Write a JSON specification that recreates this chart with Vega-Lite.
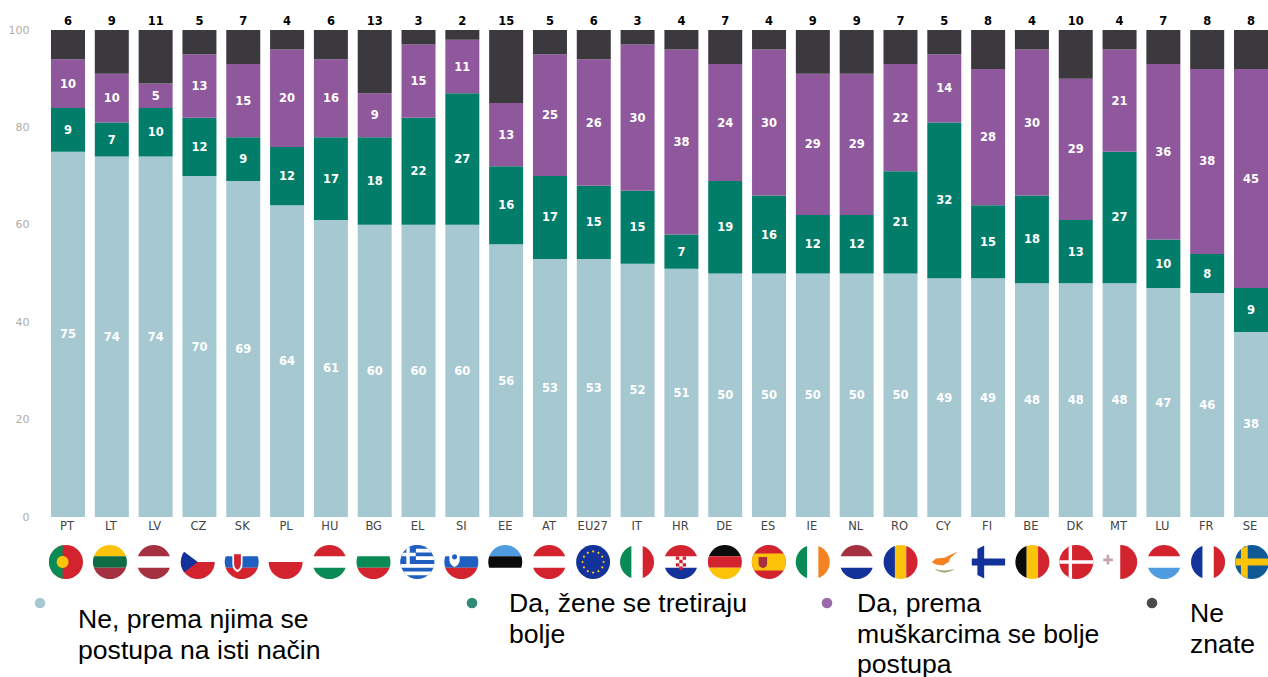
{
"$schema":"https://vega.github.io/schema/vega-lite/v6.json",
"padding":{"left":8,"top":16,"right":0,"bottom":0},
"background":"white",
"config":{"view":{"stroke":null},"concat":{"spacing":0}},
"bounds":"flush",
"spacing":0,
"resolve":{"scale":{"color":"independent","shape":"independent","x":"independent","y":"independent"}},
"datasets":{
"shares":[
{"country":"PT","answer":"Ne","rank":1,"share":75},{"country":"PT","answer":"Da žene","rank":2,"share":9},{"country":"PT","answer":"Da muškarci","rank":3,"share":10},{"country":"PT","answer":"Ne znate","rank":4,"share":6},
{"country":"LT","answer":"Ne","rank":1,"share":74},{"country":"LT","answer":"Da žene","rank":2,"share":7},{"country":"LT","answer":"Da muškarci","rank":3,"share":10},{"country":"LT","answer":"Ne znate","rank":4,"share":9},
{"country":"LV","answer":"Ne","rank":1,"share":74},{"country":"LV","answer":"Da žene","rank":2,"share":10},{"country":"LV","answer":"Da muškarci","rank":3,"share":5},{"country":"LV","answer":"Ne znate","rank":4,"share":11},
{"country":"CZ","answer":"Ne","rank":1,"share":70},{"country":"CZ","answer":"Da žene","rank":2,"share":12},{"country":"CZ","answer":"Da muškarci","rank":3,"share":13},{"country":"CZ","answer":"Ne znate","rank":4,"share":5},
{"country":"SK","answer":"Ne","rank":1,"share":69},{"country":"SK","answer":"Da žene","rank":2,"share":9},{"country":"SK","answer":"Da muškarci","rank":3,"share":15},{"country":"SK","answer":"Ne znate","rank":4,"share":7},
{"country":"PL","answer":"Ne","rank":1,"share":64},{"country":"PL","answer":"Da žene","rank":2,"share":12},{"country":"PL","answer":"Da muškarci","rank":3,"share":20},{"country":"PL","answer":"Ne znate","rank":4,"share":4},
{"country":"HU","answer":"Ne","rank":1,"share":61},{"country":"HU","answer":"Da žene","rank":2,"share":17},{"country":"HU","answer":"Da muškarci","rank":3,"share":16},{"country":"HU","answer":"Ne znate","rank":4,"share":6},
{"country":"BG","answer":"Ne","rank":1,"share":60},{"country":"BG","answer":"Da žene","rank":2,"share":18},{"country":"BG","answer":"Da muškarci","rank":3,"share":9},{"country":"BG","answer":"Ne znate","rank":4,"share":13},
{"country":"EL","answer":"Ne","rank":1,"share":60},{"country":"EL","answer":"Da žene","rank":2,"share":22},{"country":"EL","answer":"Da muškarci","rank":3,"share":15},{"country":"EL","answer":"Ne znate","rank":4,"share":3},
{"country":"SI","answer":"Ne","rank":1,"share":60},{"country":"SI","answer":"Da žene","rank":2,"share":27},{"country":"SI","answer":"Da muškarci","rank":3,"share":11},{"country":"SI","answer":"Ne znate","rank":4,"share":2},
{"country":"EE","answer":"Ne","rank":1,"share":56},{"country":"EE","answer":"Da žene","rank":2,"share":16},{"country":"EE","answer":"Da muškarci","rank":3,"share":13},{"country":"EE","answer":"Ne znate","rank":4,"share":15},
{"country":"AT","answer":"Ne","rank":1,"share":53},{"country":"AT","answer":"Da žene","rank":2,"share":17},{"country":"AT","answer":"Da muškarci","rank":3,"share":25},{"country":"AT","answer":"Ne znate","rank":4,"share":5},
{"country":"EU27","answer":"Ne","rank":1,"share":53},{"country":"EU27","answer":"Da žene","rank":2,"share":15},{"country":"EU27","answer":"Da muškarci","rank":3,"share":26},{"country":"EU27","answer":"Ne znate","rank":4,"share":6},
{"country":"IT","answer":"Ne","rank":1,"share":52},{"country":"IT","answer":"Da žene","rank":2,"share":15},{"country":"IT","answer":"Da muškarci","rank":3,"share":30},{"country":"IT","answer":"Ne znate","rank":4,"share":3},
{"country":"HR","answer":"Ne","rank":1,"share":51},{"country":"HR","answer":"Da žene","rank":2,"share":7},{"country":"HR","answer":"Da muškarci","rank":3,"share":38},{"country":"HR","answer":"Ne znate","rank":4,"share":4},
{"country":"DE","answer":"Ne","rank":1,"share":50},{"country":"DE","answer":"Da žene","rank":2,"share":19},{"country":"DE","answer":"Da muškarci","rank":3,"share":24},{"country":"DE","answer":"Ne znate","rank":4,"share":7},
{"country":"ES","answer":"Ne","rank":1,"share":50},{"country":"ES","answer":"Da žene","rank":2,"share":16},{"country":"ES","answer":"Da muškarci","rank":3,"share":30},{"country":"ES","answer":"Ne znate","rank":4,"share":4},
{"country":"IE","answer":"Ne","rank":1,"share":50},{"country":"IE","answer":"Da žene","rank":2,"share":12},{"country":"IE","answer":"Da muškarci","rank":3,"share":29},{"country":"IE","answer":"Ne znate","rank":4,"share":9},
{"country":"NL","answer":"Ne","rank":1,"share":50},{"country":"NL","answer":"Da žene","rank":2,"share":12},{"country":"NL","answer":"Da muškarci","rank":3,"share":29},{"country":"NL","answer":"Ne znate","rank":4,"share":9},
{"country":"RO","answer":"Ne","rank":1,"share":50},{"country":"RO","answer":"Da žene","rank":2,"share":21},{"country":"RO","answer":"Da muškarci","rank":3,"share":22},{"country":"RO","answer":"Ne znate","rank":4,"share":7},
{"country":"CY","answer":"Ne","rank":1,"share":49},{"country":"CY","answer":"Da žene","rank":2,"share":32},{"country":"CY","answer":"Da muškarci","rank":3,"share":14},{"country":"CY","answer":"Ne znate","rank":4,"share":5},
{"country":"FI","answer":"Ne","rank":1,"share":49},{"country":"FI","answer":"Da žene","rank":2,"share":15},{"country":"FI","answer":"Da muškarci","rank":3,"share":28},{"country":"FI","answer":"Ne znate","rank":4,"share":8},
{"country":"BE","answer":"Ne","rank":1,"share":48},{"country":"BE","answer":"Da žene","rank":2,"share":18},{"country":"BE","answer":"Da muškarci","rank":3,"share":30},{"country":"BE","answer":"Ne znate","rank":4,"share":4},
{"country":"DK","answer":"Ne","rank":1,"share":48},{"country":"DK","answer":"Da žene","rank":2,"share":13},{"country":"DK","answer":"Da muškarci","rank":3,"share":29},{"country":"DK","answer":"Ne znate","rank":4,"share":10},
{"country":"MT","answer":"Ne","rank":1,"share":48},{"country":"MT","answer":"Da žene","rank":2,"share":27},{"country":"MT","answer":"Da muškarci","rank":3,"share":21},{"country":"MT","answer":"Ne znate","rank":4,"share":4},
{"country":"LU","answer":"Ne","rank":1,"share":47},{"country":"LU","answer":"Da žene","rank":2,"share":10},{"country":"LU","answer":"Da muškarci","rank":3,"share":36},{"country":"LU","answer":"Ne znate","rank":4,"share":7},
{"country":"FR","answer":"Ne","rank":1,"share":46},{"country":"FR","answer":"Da žene","rank":2,"share":8},{"country":"FR","answer":"Da muškarci","rank":3,"share":38},{"country":"FR","answer":"Ne znate","rank":4,"share":8},
{"country":"SE","answer":"Ne","rank":1,"share":38},{"country":"SE","answer":"Da žene","rank":2,"share":9},{"country":"SE","answer":"Da muškarci","rank":3,"share":45},{"country":"SE","answer":"Ne znate","rank":4,"share":8}
],
"flags":[
{"country":"PT","part":"full","tone":"red"},{"country":"PT","part":"ptleft","tone":"green"},{"country":"PT","part":"dot","tone":"yellow"},
{"country":"LT","part":"top","tone":"yellow"},{"country":"LT","part":"hmid","tone":"darkgreen"},{"country":"LT","part":"bottom","tone":"maroon"},
{"country":"LV","part":"top","tone":"maroon"},{"country":"LV","part":"bottom","tone":"maroon"},
{"country":"CZ","part":"bothalf","tone":"red"},{"country":"CZ","part":"wedge","tone":"navy"},
{"country":"SK","part":"hmid","tone":"blue"},{"country":"SK","part":"bottom","tone":"red"},{"country":"SK","part":"shield","tone":"white"},{"country":"SK","part":"shieldin","tone":"red"},
{"country":"PL","part":"bothalf","tone":"red"},
{"country":"HU","part":"top","tone":"red"},{"country":"HU","part":"bottom","tone":"green"},
{"country":"BG","part":"hmid","tone":"green"},{"country":"BG","part":"bottom","tone":"red"},
{"country":"EL","part":"full","tone":"blue"},{"country":"EL","part":"elstripes","tone":"white"},{"country":"EL","part":"elcanton","tone":"blue"},{"country":"EL","part":"elcross","tone":"white"},
{"country":"SI","part":"hmid","tone":"blue"},{"country":"SI","part":"bottom","tone":"red"},{"country":"SI","part":"sishield","tone":"white"},{"country":"SI","part":"sidot","tone":"blue"},
{"country":"EE","part":"top","tone":"sky"},{"country":"EE","part":"hmid","tone":"black"},
{"country":"AT","part":"top","tone":"red"},{"country":"AT","part":"bottom","tone":"red"},
{"country":"EU27","part":"full","tone":"navy"},{"country":"EU27","part":"stars","tone":"yellow"},
{"country":"IT","part":"left","tone":"green"},{"country":"IT","part":"right","tone":"red"},
{"country":"HR","part":"top","tone":"red"},{"country":"HR","part":"bottom","tone":"navy"},{"country":"HR","part":"checks","tone":"red"},
{"country":"DE","part":"top","tone":"black"},{"country":"DE","part":"hmid","tone":"red"},{"country":"DE","part":"bottom","tone":"yellow"},
{"country":"ES","part":"full","tone":"red"},{"country":"ES","part":"eswide","tone":"yellow"},{"country":"ES","part":"esshield","tone":"maroon"},
{"country":"IE","part":"left","tone":"green"},{"country":"IE","part":"right","tone":"orange"},
{"country":"NL","part":"top","tone":"maroon"},{"country":"NL","part":"bottom","tone":"navy"},
{"country":"RO","part":"left","tone":"navy"},{"country":"RO","part":"vmid","tone":"yellow"},{"country":"RO","part":"right","tone":"red"},
{"country":"CY","part":"cyisland","tone":"orange"},{"country":"CY","part":"cyleaves","tone":"olive"},
{"country":"FI","part":"nordic","tone":"navy"},
{"country":"BE","part":"left","tone":"black"},{"country":"BE","part":"vmid","tone":"yellow"},{"country":"BE","part":"right","tone":"red"},
{"country":"DK","part":"full","tone":"red"},{"country":"DK","part":"nordicthin","tone":"white"},
{"country":"MT","part":"righthalf","tone":"red"},{"country":"MT","part":"mtcross","tone":"grey"},
{"country":"LU","part":"top","tone":"red"},{"country":"LU","part":"bottom","tone":"sky"},
{"country":"FR","part":"left","tone":"navy"},{"country":"FR","part":"right","tone":"red"},
{"country":"SE","part":"full","tone":"steel"},{"country":"SE","part":"nordic","tone":"yellow"}
],
"answers":[
{"rank":1,"answer":"Ne","label":"Ne, prema njima se\npostupa na isti način"},
{"rank":2,"answer":"Da žene","label":"Da, žene se tretiraju\nbolje"},
{"rank":3,"answer":"Da muškarci","label":"Da, prema\nmuškarcima se bolje\npostupa"},
{"rank":4,"answer":"Ne znate","label":"Ne\nznate"}
]
},
"vconcat":[
{
"width":1217,"height":487,
"data":{"name":"shares"},
"encoding":{
"x":{"field":"country","type":"nominal","title":null,
"scale":{"paddingInner":0.224,"paddingOuter":0,"domain":["PT","LT","LV","CZ","SK","PL","HU","BG","EL","SI","EE","AT","EU27","IT","HR","DE","ES","IE","NL","RO","CY","FI","BE","DK","MT","LU","FR","SE"]},
"axis":{"labelAngle":0,"domain":false,"ticks":false,"labelFont":"DejaVu Sans","labelFontSize":11.5,"labelColor":"#444444","labelPadding":3,"labelOffset":-1}}
},
"layer":[
{"mark":{"type":"bar"},
"encoding":{
"y":{"field":"share","type":"quantitative","stack":"zero","title":null,
"scale":{"domain":[0,100],"nice":false},
"axis":{"values":[0,20,40,60,80,100],"grid":false,"domain":false,"ticks":false,"labelFont":"DejaVu Sans","labelFontSize":11,"labelColor":"#b3aca6","labelPadding":22}},
"color":{"field":"answer","type":"nominal","legend":null,
"scale":{"domain":["Ne","Da žene","Da muškarci","Ne znate"],"range":["#a5c8d1","#017d69","#8f589c","#3c393e"]}},
"order":{"field":"rank","type":"quantitative"}
}},
{"transform":[{"filter":"datum.answer !== 'Ne znate'"}],
"mark":{"type":"text","color":"white","font":"DejaVu Sans","fontWeight":"bold","fontSize":11.5,"dy":1},
"encoding":{
"y":{"field":"share","type":"quantitative","stack":"zero","bandPosition":0.5},
"detail":{"field":"answer"},
"order":{"field":"rank","type":"quantitative"},
"text":{"field":"share","type":"quantitative"}
}},
{"transform":[{"filter":"datum.answer === 'Ne znate'"}],
"mark":{"type":"text","color":"black","font":"DejaVu Sans","fontWeight":"bold","fontSize":11.5,"dy":-8},
"encoding":{
"y":{"datum":100,"type":"quantitative"},
"text":{"field":"share","type":"quantitative"}
}}
]
},
{
"width":1217,"height":90,
"data":{"name":"flags"},
"mark":{"type":"point","filled":true,"opacity":1,"size":1156,"strokeWidth":0},
"encoding":{
"x":{"field":"country","type":"nominal","axis":null,
"scale":{"type":"point","padding":0,"range":[15,1201],"domain":["PT","LT","LV","CZ","SK","PL","HU","BG","EL","SI","EE","AT","EU27","IT","HR","DE","ES","IE","NL","RO","CY","FI","BE","DK","MT","LU","FR","SE"]}},
"color":{"field":"tone","type":"nominal","legend":null,
"scale":{"domain":["red","maroon","green","darkgreen","yellow","orange","olive","navy","blue","steel","sky","black","white","grey"],
"range":["#d2232f","#a5303f","#0a8a55","#0f6b43","#fcc30b","#f58220","#a9a878","#13339a","#1f5fc0","#0f5a96","#4f9be0","#0b0b0b","#ffffff","#c9a3a8"]}},
"shape":{"field":"part","type":"nominal","legend":null,
"scale":{"domain":["full","top","hmid","bottom","left","vmid","right","bothalf","righthalf","ptleft","dot","wedge","shield","shieldin","sishield","sidot","elstripes","elcanton","elcross","stars","checks","eswide","esshield","cyisland","cyleaves","nordic","nordicthin","mtcross"],
"range":[
"M-1,0A1,1 0 1 1 1,0A1,1 0 1 1 -1,0Z",
"M-0.943,-0.333A1,1 0 0 1 0.943,-0.333Z",
"M-0.943,-0.333L0.943,-0.333A1,1 0 0 1 0.943,0.333L-0.943,0.333A1,1 0 0 1 -0.943,-0.333Z",
"M0.943,0.333A1,1 0 0 1 -0.943,0.333Z",
"M-0.333,-0.943A1,1 0 0 0 -0.333,0.943Z",
"M-0.333,-0.943A1,1 0 0 1 0.333,-0.943L0.333,0.943A1,1 0 0 1 -0.333,0.943Z",
"M0.333,-0.943A1,1 0 0 1 0.333,0.943Z",
"M1,0A1,1 0 0 1 -1,0Z",
"M0,-1A1,1 0 0 1 0,1Z",
"M-0.2,-0.98A1,1 0 0 0 -0.2,0.98Z",
"M-0.55,0A0.35,0.35 0 1 1 0.15,0A0.35,0.35 0 1 1 -0.55,0Z",
"M-0.8,-0.6L0,0L-0.8,0.6A1,1 0 0 1 -0.8,-0.6Z",
"M-0.55,-0.55L0.05,-0.55L0.05,0.1Q0.05,0.45 -0.25,0.6Q-0.55,0.45 -0.55,0.1Z",
"M-0.45,-0.45L-0.05,-0.45L-0.05,0.1Q-0.05,0.35 -0.25,0.45Q-0.45,0.35 -0.45,0.1Z",
"M-0.7,-0.65L-0.1,-0.65L-0.1,-0.1Q-0.1,0.15 -0.4,0.3Q-0.7,0.15 -0.7,-0.1Z",
"M-0.55,-0.3A0.15,0.15 0 1 1 -0.25,-0.3A0.15,0.15 0 1 1 -0.55,-0.3Z",
"M-0.1,-0.778L0.628,-0.778L0.83,-0.556L-0.1,-0.556ZM-0.1,-0.333L0.943,-0.333L0.994,-0.111L-0.1,-0.111ZM-0.994,0.111L0.994,0.111L0.943,0.333L-0.943,0.333ZM-0.83,0.556L0.83,0.556L0.628,0.778L-0.628,0.778Z",
"M-0.1,-0.995L-0.1,0.111L-0.994,0.111A1,1 0 0 1 -0.1,-0.995Z",
"M-0.65,-0.8L-0.45,-0.9L-0.45,-0.54L-0.1,-0.54L-0.1,-0.34L-0.45,-0.34L-0.45,0.111L-0.65,0.111L-0.65,-0.34L-0.93,-0.34L-0.85,-0.54L-0.65,-0.54Z",
"M0,-0.7L0.08,-0.62L0,-0.54L-0.08,-0.62ZM0.31,-0.617L0.39,-0.537L0.31,-0.457L0.23,-0.537ZM0.537,-0.39L0.617,-0.31L0.537,-0.23L0.457,-0.31ZM0.62,-0.08L0.7,0L0.62,0.08L0.54,0ZM0.537,0.23L0.617,0.31L0.537,0.39L0.457,0.31ZM0.31,0.457L0.39,0.537L0.31,0.617L0.23,0.537ZM0,0.54L0.08,0.62L0,0.7L-0.08,0.62ZM-0.31,0.457L-0.23,0.537L-0.31,0.617L-0.39,0.537ZM-0.537,0.23L-0.457,0.31L-0.537,0.39L-0.617,0.31ZM-0.62,-0.08L-0.54,0L-0.62,0.08L-0.7,0ZM-0.537,-0.39L-0.457,-0.31L-0.537,-0.23L-0.617,-0.31ZM-0.31,-0.617L-0.23,-0.537L-0.31,-0.457L-0.39,-0.537Z",
"M-0.3,-0.33L-0.1,-0.33L-0.1,-0.13L-0.3,-0.13ZM0.1,-0.33L0.3,-0.33L0.3,-0.13L0.1,-0.13ZM-0.1,-0.13L0.1,-0.13L0.1,0.07L-0.1,0.07ZM-0.3,0.07L-0.1,0.07L-0.1,0.27L-0.3,0.27ZM0.1,0.07L0.3,0.07L0.3,0.27L0.1,0.27ZM-0.1,0.27L0.1,0.27L0.1,0.47L-0.1,0.47Z",
"M-0.866,-0.5L0.866,-0.5A1,1 0 0 1 0.866,0.5L-0.866,0.5A1,1 0 0 1 -0.866,-0.5Z",
"M-0.6,-0.3L-0.1,-0.3L-0.1,0.1Q-0.1,0.3 -0.35,0.35Q-0.6,0.3 -0.6,0.1Z",
"M-0.75,0.02L-0.5,-0.2L0,-0.25L0.35,-0.42L0.78,-0.62L0.35,-0.25L0.25,0L-0.1,0.2L-0.5,0.15Z",
"M-0.6,0.4Q0,0.85 0.6,0.4Q0,0.6 -0.6,0.4Z",
"M-0.65,-0.76L-0.25,-0.97L-0.25,-0.2L0.98,-0.2L0.98,0.2L-0.25,0.2L-0.25,0.97L-0.65,0.76L-0.65,0.2L-0.98,0.2L-0.98,-0.2L-0.65,-0.2Z",
"M-0.45,-0.89L-0.25,-0.97L-0.25,-0.1L0.99,-0.1L0.99,0.1L-0.25,0.1L-0.25,0.97L-0.45,0.89L-0.45,0.1L-0.99,0.1L-0.99,-0.1L-0.45,-0.1Z",
"M-0.8,-0.42L-0.65,-0.42L-0.65,-0.2L-0.43,-0.2L-0.43,-0.05L-0.65,-0.05L-0.65,0.15L-0.8,0.15L-0.8,-0.05L-1,-0.05L-1,-0.2L-0.8,-0.2Z"
]}}
}
},
{
"width":1217,"height":70,
"data":{"name":"answers"},
"resolve":{"scale":{"x":"independent","y":"independent"}},
"layer":[
{"mark":{"type":"circle","size":113,"opacity":1},
"encoding":{
"x":{"field":"rank","type":"quantitative","axis":null,"scale":{"domain":[1,2,3,4],"range":[-11,421,776,1101],"zero":false,"nice":false}},
"y":{"field":"rank","type":"quantitative","axis":null,"scale":{"domain":[1,4],"range":[-4,-4],"zero":false,"nice":false}},
"color":{"field":"answer","type":"nominal","legend":null,
"scale":{"domain":["Ne","Da žene","Da muškarci","Ne znate"],"range":["#a5c8d1","#2f8a78","#9a6aa8","#4a4a4c"]}}
}},
{"mark":{"type":"text","font":"Liberation Sans","fontSize":26.6,"lineBreak":"\n","lineHeight":30.5,"align":"left","baseline":"alphabetic","color":"black"},
"encoding":{
"x":{"field":"rank","type":"quantitative","axis":null,"scale":{"domain":[1,2,3,4],"range":[27,458,806,1139],"zero":false,"nice":false}},
"y":{"field":"rank","type":"quantitative","axis":null,"scale":{"domain":[1,2,3,4],"range":[21,5,5,15],"zero":false,"nice":false}},
"text":{"field":"label","type":"nominal"}
}}
]
}
]
}
